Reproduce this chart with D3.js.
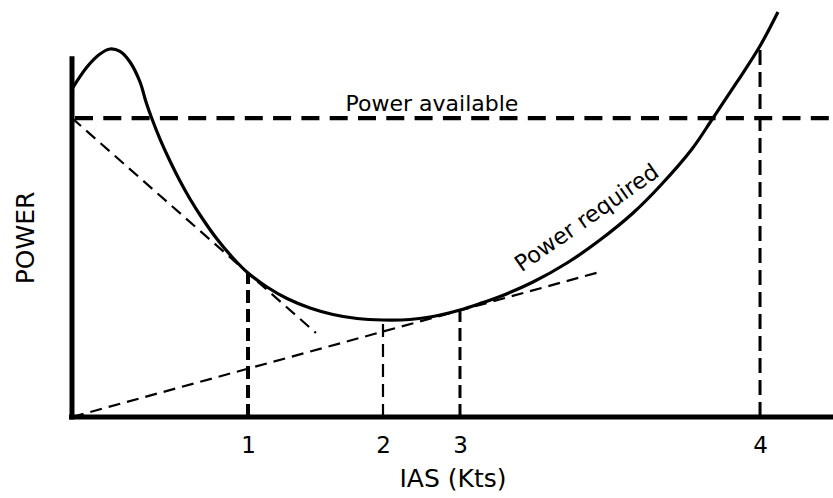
<!DOCTYPE html>
<html>
<head>
<meta charset="utf-8">
<script src="https://cdn.jsdelivr.net/npm/d3@7"></script>
<style>
  html, body { margin: 0; padding: 0; background: #fff; }
  svg { display: block; font-family: "DejaVu Sans", sans-serif; }
</style>
</head>
<body>
<svg id="chart" width="833" height="498"></svg>
<script>
// ---- data (arbitrary units: IAS 0..100, POWER 0..100) ----
const curveIAS   = [0.0, 1.97, 3.68, 5.0, 6.32, 7.63, 8.95, 9.74, 10.53, 11.58, 12.89, 14.21, 15.53, 17.11, 19.08, 21.18, 23.16, 25.66, 28.29, 31.32, 34.34, 37.5, 40.92, 44.47, 47.5, 51.05, 54.08, 56.32, 60.66, 65.13, 69.47, 73.82, 77.37, 81.58, 84.34, 87.5, 90.53, 92.89];
const curvePower = [80.0, 85.37, 88.54, 89.76, 89.15, 86.59, 81.71, 76.83, 72.68, 67.8, 62.44, 57.56, 53.17, 48.54, 43.41, 38.78, 35.12, 31.71, 28.9, 26.59, 25.0, 24.02, 23.66, 23.78, 24.51, 26.1, 27.93, 29.39, 32.93, 37.56, 43.17, 49.76, 56.34, 65.37, 72.93, 81.71, 90.49, 98.78];

const powerAvailable = 72.9;
const yAxisTop = 88.0;

// tangent lines: [ [x0,y0], [x1,y1] ]
const tangentFromAvailable = [[0, 72.9], [32.1, 20.5]];
const tangentFromOrigin    = [[0, 0], [69.5, 35.4]];

// marked speeds
const markIAS    = [23.16, 40.92, 51.05, 90.53];
const markPower  = [35.1, 23.7, 26.1, 90.5];
const markLabels = ["1", "2", "3", "4"];

// ---- drawing ----
const svg = d3.select("#chart");
const x = d3.scaleLinear().domain([0, 100]).range([72, 832]);
const y = d3.scaleLinear().domain([0, 100]).range([417, 7]);

const markStyles = [
  { w: 4,   dash: "13,6" },
  { w: 2.2, dash: "13,7" },
  { w: 3,   dash: "13,6" },
  { w: 3,   dash: "15,7" }
];

// vertical dashed marks
markIAS.forEach((v, i) => {
  svg.append("line")
    .attr("x1", x(v)).attr("x2", x(v))
    .attr("y1", y(0)).attr("y2", y(markPower[i]))
    .attr("stroke", "#000")
    .attr("stroke-width", markStyles[i].w)
    .attr("stroke-dasharray", markStyles[i].dash);
});

// tangents
[tangentFromAvailable, tangentFromOrigin].forEach(t => {
  svg.append("line")
    .attr("x1", x(t[0][0])).attr("y1", y(t[0][1]))
    .attr("x2", x(t[1][0])).attr("y2", y(t[1][1]))
    .attr("stroke", "#000")
    .attr("stroke-width", 2.2)
    .attr("stroke-dasharray", "12,7");
});

// power available
svg.append("line")
  .attr("x1", x(0) + 3).attr("x2", 833)
  .attr("y1", y(powerAvailable)).attr("y2", y(powerAvailable))
  .attr("stroke", "#000")
  .attr("stroke-width", 4.2)
  .attr("stroke-dasharray", "18,10.3");

// power required curve
const pts = curveIAS.map((v, i) => [v, curvePower[i]]);
svg.append("path")
  .datum(pts)
  .attr("fill", "none")
  .attr("stroke", "#000")
  .attr("stroke-width", 3.2)
  .attr("d", d3.line().x(d => x(d[0])).y(d => y(d[1])).curve(d3.curveCatmullRom.alpha(0.5)));

// axes
const xAxis = d3.axisBottom(x)
  .tickValues(markIAS)
  .tickFormat((d, i) => markLabels[i])
  .tickSize(0)
  .tickSizeOuter(0);
const gx = svg.append("g").attr("transform", `translate(0,${y(0)})`).call(xAxis);
gx.select(".domain").attr("stroke", "#000").attr("stroke-width", 5)
  .attr("d", `M${x(0) - 3},0H833`);
gx.selectAll("text")
  .attr("dy", null).attr("y", 36)
  .attr("font-family", "DejaVu Sans, sans-serif")
  .attr("font-size", 23)
  .attr("fill", "#000");

svg.append("line")
  .attr("x1", x(0)).attr("x2", x(0))
  .attr("y1", y(yAxisTop)).attr("y2", y(0) + 2.5)
  .attr("stroke", "#000").attr("stroke-width", 5);

// labels
svg.append("text").attr("x", 453).attr("y", 487)
  .attr("text-anchor", "middle").attr("font-size", 25).text("IAS (Kts)");

svg.append("text")
  .attr("transform", "translate(34,238) rotate(-90)")
  .attr("text-anchor", "middle").attr("font-size", 25).text("POWER");

svg.append("text").attr("x", 432).attr("y", 111)
  .attr("text-anchor", "middle").attr("font-size", 22).text("Power available");

svg.append("text")
  .attr("transform", "translate(591,224) rotate(-35)")
  .attr("text-anchor", "middle").attr("font-size", 22.5).text("Power required");
</script>
</body>
</html>
